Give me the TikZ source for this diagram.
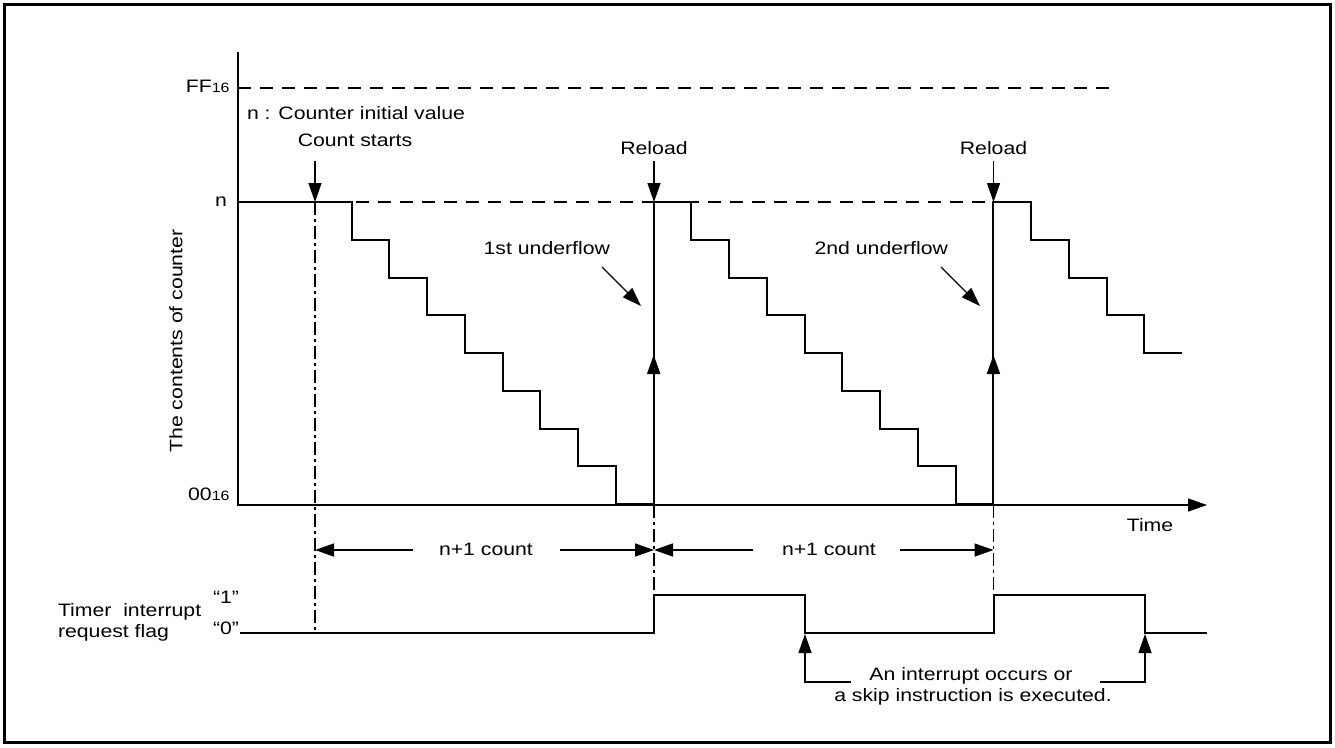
\documentclass[tikz,border=0pt]{standalone}
\usepackage{fontspec}
\setmainfont{Liberation Sans}[FakeStretch=1.18]
\usetikzlibrary{arrows.meta}
\newcommand\mysubsix{{\fontsize{13.5}{14}\selectfont 16}}
\begin{document}
\begin{tikzpicture}[x=1pt,y=-1pt,
  txt/.style={font=\fontsize{18}{21}\selectfont, inner sep=0pt, outer sep=0pt},
  wave/.style={line width=2pt, line join=miter},
  axisline/.style={line width=1.4pt, line join=miter},
  dsh/.style={line width=1.3pt, dash pattern=on 13pt off 9pt},
  dshdot/.style={line width=1.3pt, dash pattern=on 13pt off 4pt on 3pt off 4pt},
  arr/.style={line width=1.4pt, line join=miter, -{Triangle[length=19pt,width=13pt]}},
]
\useasboundingbox (0,0) rectangle (1335,747);
\draw[line width=3pt] (4.2,4.5) rectangle (1330.8,742.5);

% axes
\coordinate (ytop) at (238,52);
\coordinate (orig) at (238,505);
\coordinate (xend) at (1207,505);
\draw[axisline, -{Triangle[length=19pt,width=13pt]}] (ytop) -- (orig) -- (xend);

% dashed levels
\coordinate (ffL) at (238,88);   \coordinate (ffR) at (1115,88);
\coordinate (nL) at (356,202);   \coordinate (nR) at (993,202);
\draw[dsh] (ffL) -- (ffR);
\draw[dsh] (nL) -- (nR);

% axis labels
\node[txt, anchor=base east] (ff) at (229.5,92) {FF\mysubsix};
\node[txt, anchor=base east] (nlab) at (227,206.5) {n};
\node[txt, anchor=base east] (zz) at (229.5,500) {00\mysubsix};
\node[txt, rotate=90] (ylab) at (176,341) {The contents of counter};
\node[txt, anchor=base] (time) at (1150,531) {Time};
\node[txt, anchor=base west] (init) at (247,119) {n : Counter initial value};

% counter waveform
\coordinate (w0) at (238,202);
\draw[wave] (w0) -- (351.7,202)
  foreach \k in {1,...,8} { -- ++(0,37.75) -- ++(37.75,0) }
  -- (653.7,202) -- ++(37.75,0)
  foreach \k in {1,...,8} { -- ++(0,37.75) -- ++(37.75,0) }
  -- (993.45,202) -- ++(37.75,0)
  foreach \k in {1,...,4} { -- ++(0,37.75) -- ++(37.75,0) };

% up arrows on reload lines
\coordinate (u1a) at (653.7,420); \coordinate (u1b) at (653.7,355);
\coordinate (u2a) at (993.45,420); \coordinate (u2b) at (993.45,355);
\draw[arr, line width=2pt] (u1a) -- (u1b);
\draw[arr, line width=2pt] (u2a) -- (u2b);

% count starts / reload
\node[txt, anchor=base] (cs) at (355,146.7) {Count starts};
\node[txt, anchor=base] (rl1) at (654,154.5) {Reload};
\node[txt, anchor=base] (rl2) at (993.5,154.5) {Reload};
\coordinate (csA) at (315,161);  \coordinate (csB) at (315,202);
\coordinate (r1A) at (654,161);  \coordinate (r1B) at (654,202);
\coordinate (r2A) at (993.5,161); \coordinate (r2B) at (993.5,202);
\draw[arr] (csA) -- (csB);
\draw[arr] (r1A) -- (r1B);
\draw[arr] (r2A) -- (r2B);

% underflow labels
\node[txt, anchor=base east] (uf1) at (610,254) {1st underflow};
\node[txt, anchor=base east] (uf2) at (948,254) {2nd underflow};
\coordinate (uf1A) at (602,267); \coordinate (uf1B) at (641,306);
\coordinate (uf2A) at (941,267); \coordinate (uf2B) at (980,306);
\draw[arr] (uf1A) -- (uf1B);
\draw[arr] (uf2A) -- (uf2B);

% dash-dot verticals
\coordinate (d0a) at (315,202); \coordinate (d0b) at (315,633);
\coordinate (d1a) at (654,505); \coordinate (d1b) at (654,595);
\coordinate (d2a) at (993.5,505); \coordinate (d2b) at (993.5,595);
\draw[dshdot] (d0a) -- (d0b);
\draw[dshdot] (d1a) -- (d1b);
\draw[dshdot] (d2a) -- (d2b);

% n+1 count
\node[txt, anchor=base west] (c1) at (439,555) {n+1 count};
\node[txt, anchor=base west] (c2) at (782,555) {n+1 count};
\coordinate (c1L) at (413,550); \coordinate (c1R) at (560,550);
\coordinate (c2L) at (753,550); \coordinate (c2R) at (900,550);
\draw[arr] (c1L) -- (d0a |- c1L);
\draw[arr] (c1R) -- (d1a |- c1R);
\draw[arr] (c2L) -- (d1a |- c2L);
\draw[arr] (c2R) -- (d2a |- c2R);

% flag
\node[txt, anchor=base west] (tf1) at (58,616.7) {Timer\ \ interrupt};
\node[txt, anchor=base west] (tf2) at (58,637.7) {request flag};
\node[txt, anchor=base west] (one) at (213,603.3) {“1”};
\node[txt, anchor=base west] (zero) at (213,634) {“0”};
\coordinate (f0) at (240,633);
\draw[wave] (f0) -- (654,633) -- (654,595) -- (805,595) -- (805,633)
  -- (993.5,633) -- (993.5,595) -- (1145,595) -- (1145,633) -- (1207,633);

% interrupt arrows
\node[txt, anchor=base] (it1) at (971,680) {An interrupt occurs or};
\node[txt, anchor=base] (it2) at (973,701) {a skip instruction is executed.};
\coordinate (iL) at (851,682); \coordinate (iLt) at (805,634);
\coordinate (iR) at (1100,682); \coordinate (iRt) at (1145,634);
\draw[arr] (iL) -- (iLt |- iL) -- (iLt);
\draw[arr] (iR) -- (iRt |- iR) -- (iRt);
\end{tikzpicture}
\end{document}
